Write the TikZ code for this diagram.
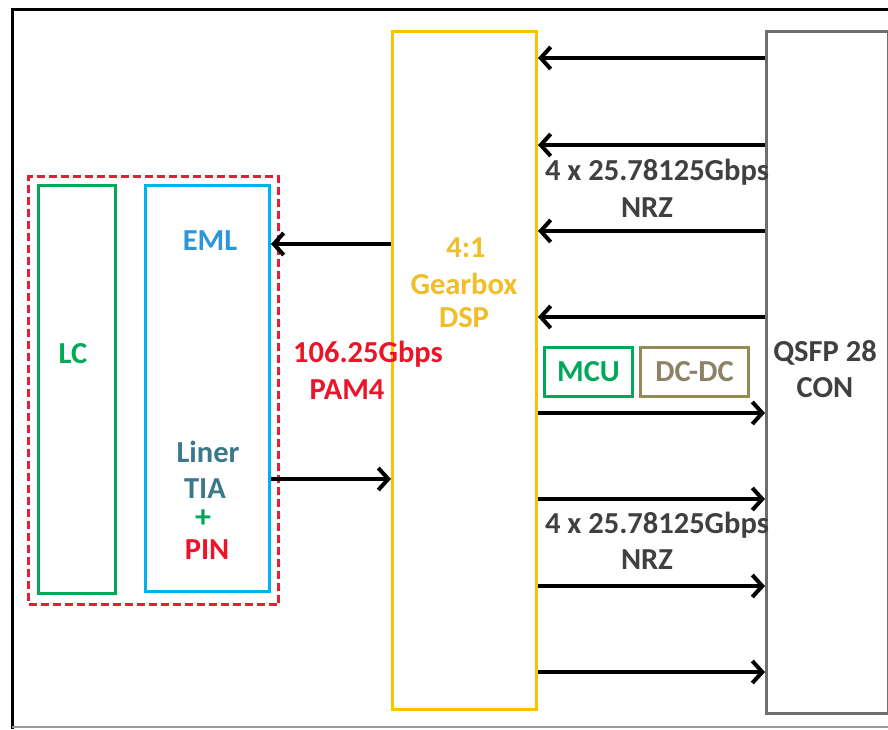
\documentclass[tikz,border=0pt]{standalone}
\usepackage{fontspec}
\setmainfont{Carlito}
\usetikzlibrary{arrows.meta}
\definecolor{lcgreen}{RGB}{0,168,90}
\definecolor{txblue}{RGB}{0,176,240}
\definecolor{emlblue}{RGB}{46,150,214}
\definecolor{teal}{RGB}{60,120,140}
\definecolor{dspyellow}{RGB}{255,192,0}
\definecolor{txtyellow}{RGB}{240,190,40}
\definecolor{redbox}{RGB}{230,30,50}
\definecolor{redtxt}{RGB}{235,20,40}
\definecolor{dcolive}{RGB}{148,138,84}
\definecolor{dctxt}{RGB}{140,130,100}
\definecolor{darktxt}{RGB}{64,64,64}
\definecolor{qgray}{RGB}{110,110,110}
\begin{document}
\begin{tikzpicture}[x=1pt,y=-1pt,
  box/.style={draw, line width=3pt, inner sep=0pt, anchor=north west},
  lbl/.style={font=\bfseries\fontsize{30.5}{32}\selectfont, inner sep=0pt, align=center},
  arr/.style={line width=4pt, -{Straight Barb[length=10pt,width=22pt,line width=4pt]}}]
\useasboundingbox (0,0) rectangle (888,729);
\fill[white] (0,0) rectangle (888,729);
% frame
\draw[line width=3pt] (12,729) -- (12,9) -- (890,9);
\draw[line width=1.5pt, black!40] (12,727) -- (890,727);
% left group
\node[box, draw=redbox, dash pattern=on 8pt off 4pt, minimum width=250pt, minimum height=428pt] (grp) at (27,175) {};
\node[box, draw=lcgreen, minimum width=77pt, minimum height=408pt] (lc) at (37,184) {};
\node[box, draw=txblue, minimum width=124pt, minimum height=406pt] (tx) at (144,184) {};
\node[box, draw=dspyellow, minimum width=144pt, minimum height=678pt] (dsp) at (391,30) {};
\node[box, draw=qgray, minimum width=122pt, minimum height=682pt] (qsfp) at (765,30) {};
\node[box, draw=lcgreen, minimum width=88pt, minimum height=49pt] (mcu) at (543,346) {};
\node[box, draw=dcolive, minimum width=108pt, minimum height=49pt] (dcdc) at (639,346) {};
% texts
\node[lbl, text=lcgreen] (lct) at (73,354) {LC};
\node[lbl, text=emlblue] (eml) at (210,241) {EML};
\node[lbl, text=teal] (liner) at (208,452) {Liner};
\node[lbl, text=teal] (tia) at (205,489) {TIA};
\node[lbl, text=lcgreen, font=\bfseries\fontsize{32}{32}\selectfont] (plus) at (203,519) {+};
\node[lbl, text=redtxt] (pin) at (207,550) {PIN};
\node[lbl, text=txtyellow] (d1) at (466,248) {4:1};
\node[lbl, text=txtyellow] (d2) at (464,284) {Gearbox};
\node[lbl, text=txtyellow] (d3) at (464,318) {DSP};
\node[lbl, text=redtxt] (r1) at (368,354) {106.25Gbps};
\node[lbl, text=redtxt] (r2) at (347,390) {PAM4};
\node[lbl, text=darktxt] (q1) at (825,353) {QSFP 28};
\node[lbl, text=darktxt] (q2) at (825,388) {CON};
\node[lbl, text=lcgreen] (mcut) at (mcu.center) {MCU};
\node[lbl, text=dctxt] (dct) at (dcdc.center) {DC-DC};
\node[lbl, text=darktxt] (n1) at (657,172) {4 x 25.78125Gbps};
\node[lbl, text=darktxt] (n2) at (647,208) {NRZ};
\node[lbl, text=darktxt] (n3) at (657,525) {4 x 25.78125Gbps};
\node[lbl, text=darktxt] (n4) at (647,560) {NRZ};
% connectors
\draw[arr] (dsp.west |- 0,244) -- (tx.east |- 0,244);
\draw[arr] (tx.east |- 0,479) -- (dsp.west |- 0,479);
\foreach \yy in {58,145,231,317}
  \draw[arr] (qsfp.west |- 0,\yy) -- (dsp.east |- 0,\yy);
\foreach \yy in {413,499,586,672}
  \draw[arr] (dsp.east |- 0,\yy) -- (qsfp.west |- 0,\yy);
\end{tikzpicture}
\end{document}
